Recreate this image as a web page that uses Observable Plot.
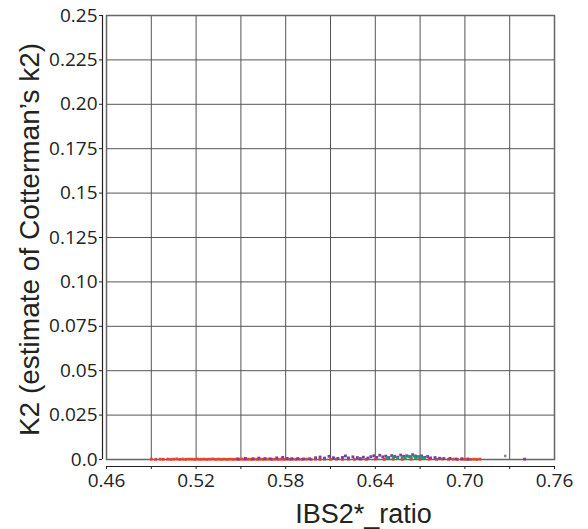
<!DOCTYPE html>
<html>
<head>
<meta charset="utf-8">
<script src="https://cdn.jsdelivr.net/npm/d3@7"></script>
<script src="https://cdn.jsdelivr.net/npm/@observablehq/plot@0.6"></script>
<style>
  html, body { margin: 0; padding: 0; background: #fff; }
</style>
</head>
<body>
<div id="chart"></div>
<script>
const xTitle = "IBS2*_ratio";
const yTitle = "K2 (estimate of Cotterman\u2019s k2)";
const xTickValues = [0.46, 0.52, 0.58, 0.64, 0.70, 0.76];
const xTickLabels = ["0.46", "0.52", "0.58", "0.64", "0.70", "0.76"];
const xMinorTicks = [0.49, 0.55, 0.61, 0.67, 0.73];
const xGrid = [0.46, 0.49, 0.52, 0.55, 0.58, 0.61, 0.64, 0.67, 0.70, 0.73, 0.76];
const yTickValues = [0, 0.025, 0.05, 0.075, 0.10, 0.125, 0.15, 0.175, 0.20, 0.225, 0.25];
const yTickLabels = ["0.0", "0.025", "0.05", "0.075", "0.10", "0.125", "0.15", "0.175", "0.20", "0.225", "0.25"];

const redX = [0.490,0.493,0.496,0.498,0.501,0.503,0.505,0.507,0.509,0.511,0.513,0.515,0.517,0.519,0.521,0.523,0.525,0.527,0.529,0.531,0.533,0.535,0.537,0.539,0.541,0.543,0.545,0.547,0.549,0.551,0.553,0.555,0.557,0.559,0.561,0.563,0.565,0.567,0.569,0.571,0.573,0.575,0.577,0.579,0.581,0.583,0.585,0.587,0.589,0.591,0.594,0.597,0.600,0.603,0.606,0.610,0.614,0.618,0.622,0.626,0.630,0.634,0.640,0.646,0.652,0.658,0.664,0.670,0.676,0.681,0.685,0.689,0.692,0.695,0.698,0.700,0.702,0.704,0.706,0.708,0.710];
const redY = [0.0002,0.0001,0.0002,0.0001,0.0002,0.0001,0.0002,0.0003,0.0001,0.0002,0.0001,0.0002,0.0002,0.0001,0.0002,0.0001,0.0002,0.0001,0.0002,0.0003,0.0001,0.0002,0.0001,0.0002,0.0001,0.0002,0.0001,0.0002,0.0001,0.0002,0.0001,0.0002,0.0001,0.0002,0.0001,0.0002,0.0001,0.0002,0.0003,0.0001,0.0002,0.0001,0.0002,0.0001,0.0002,0.0001,0.0002,0.0001,0.0002,0.0001,0.0002,0.0001,0.0002,0.0001,0.0002,0.0001,0.0002,0.0001,0.0002,0.0001,0.0002,0.0001,0.0002,0.0001,0.0002,0.0001,0.0002,0.0001,0.0002,0.0001,0.0003,0.0001,0.0002,0.0001,0.0002,0.0001,0.0002,0.0001,0.0002,0.0001,0.0002];

const purpleX = [0.548,0.553,0.558,0.562,0.566,0.570,0.574,0.578,0.581,0.584,0.588,0.592,0.596,0.600,0.603,0.606,0.609,0.612,0.615,0.618,0.620,0.622,0.625,0.628,0.630,0.632,0.635,0.637,0.639,0.641,0.643,0.645,0.647,0.649,0.651,0.653,0.655,0.657,0.659,0.661,0.663,0.665,0.667,0.669,0.671,0.673,0.675,0.677,0.680,0.683,0.686,0.690,0.694,0.698,0.702,0.740];
const purpleY = [0.0003,0.0006,0.0004,0.0008,0.0005,0.0003,0.0009,0.0012,0.0006,0.0004,0.0005,0.0003,0.0004,0.0010,0.0014,0.0008,0.0018,0.0010,0.0006,0.0012,0.0020,0.0009,0.0015,0.0011,0.0005,0.0013,0.0008,0.0016,0.0021,0.0012,0.0024,0.0015,0.0019,0.0011,0.0022,0.0017,0.0013,0.0025,0.0018,0.0021,0.0016,0.0027,0.0019,0.0014,0.0020,0.0012,0.0017,0.0009,0.0011,0.0007,0.0005,0.0006,0.0003,0.0004,0.0002,0.0002];

const greenX = [0.648,0.652,0.655,0.658,0.660,0.662,0.664,0.666,0.667,0.669,0.671,0.673];
const greenY = [0.0008,0.0012,0.0006,0.0015,0.0010,0.0018,0.0013,0.0020,0.0009,0.0016,0.0011,0.0007];

const grayX = [0.727];
const grayY = [0.0020];

const toPts = (xs, ys) => xs.map((x, i) => ({x, y: ys[i]}));
const red = toPts(redX, redY);
const purple = toPts(purpleX, purpleY);
const green = toPts(greenX, greenY);
const gray = toPts(grayX, grayY);

const tickFont = "'Open Sans', 'DejaVu Sans', sans-serif";
const titleFont = "'Liberation Sans', Arial, sans-serif";

const chart = Plot.plot({
  width: 588,
  height: 529,
  marginLeft: 106,
  marginRight: 34,
  marginTop: 15,
  marginBottom: 70,
  style: {background: "#fff", fontFamily: tickFont, fontSize: "19px", color: "#222"},
  x: {domain: [0.46, 0.76]},
  y: {domain: [0, 0.25]},
  marks: [
    Plot.ruleX(xGrid, {stroke: "#555", strokeWidth: 1}),
    Plot.ruleY(yTickValues, {stroke: "#555", strokeWidth: 1}),
    Plot.frame({stroke: "#666", strokeWidth: 1.5}),
    Plot.dot(red, {x: "x", y: "y", symbol: "square", r: 1.6, fill: "#e5412d", stroke: "none"}),
    Plot.dot(purple, {x: "x", y: "y", symbol: "square", r: 1.6, fill: "#7a3f9d", stroke: "none"}),
    Plot.dot(green, {x: "x", y: "y", symbol: "square", r: 1.6, fill: "#1f9a6b", stroke: "none"}),
    Plot.dot(gray, {x: "x", y: "y", symbol: "square", r: 1.4, fill: "#888", stroke: "none"}),
    // y axis: offset line, ticks, labels
    Plot.ruleX([0.46], {y1: 0, y2: 0.25, dx: -4, stroke: "#222", strokeWidth: 1.2}),
    Plot.axisY({ticks: yTickValues, tickFormat: () => "", tickSize: 3, dx: -4, label: null}),
    Plot.text(yTickValues, {y: d => d, frameAnchor: "left", textAnchor: "end", lineAnchor: "middle", dx: -9,
      text: (d, i) => yTickLabels[i], fontSize: 19, fontFamily: tickFont, fill: "#222"}),
    // x axis: offset line, ticks, labels
    Plot.ruleY([0], {x1: 0.46, x2: 0.76, dy: 7, stroke: "#222", strokeWidth: 1.2}),
    Plot.axisX({ticks: xTickValues, tickFormat: () => "", tickSize: 3, dy: 7, label: null}),
    Plot.axisX({ticks: xMinorTicks, tickFormat: () => "", tickSize: 3, dy: 7, label: null}),
    Plot.text(xTickValues, {x: d => d, frameAnchor: "bottom", textAnchor: "middle", lineAnchor: "top", dy: 14,
      text: (d, i) => xTickLabels[i], fontSize: 19, fontFamily: tickFont, fill: "#222"}),
    // titles
    Plot.text([yTitle], {frameAnchor: "left", textAnchor: "middle", lineAnchor: "middle", dx: -76, dy: 2, rotate: -90, text: d => d, fontSize: 28, fontFamily: titleFont, fill: "#222"}),
    Plot.text([xTitle], {frameAnchor: "bottom", textAnchor: "middle", lineAnchor: "bottom", dx: 33, dy: 63, text: d => d, fontSize: 27, fontFamily: titleFont, fill: "#222"})
  ]
});
document.getElementById("chart").appendChild(chart);
</script>
</body>
</html>
